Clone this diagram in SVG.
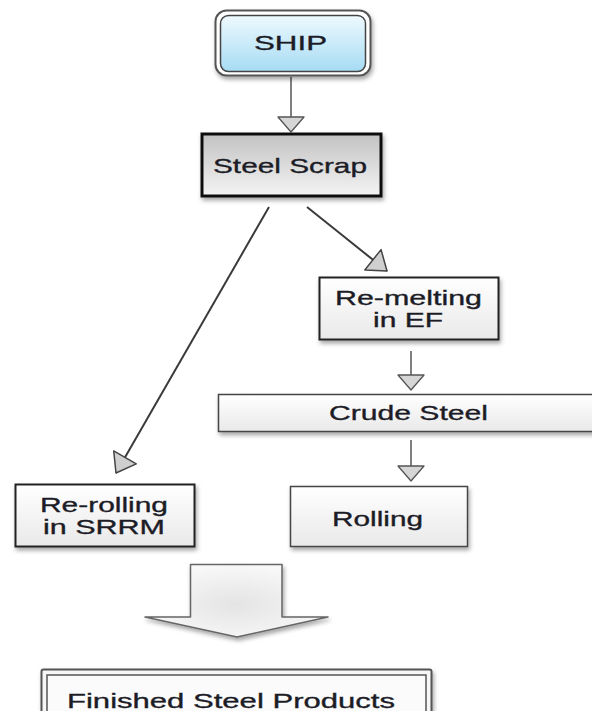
<svg xmlns="http://www.w3.org/2000/svg" width="592" height="711" viewBox="0 0 592 711">
  <defs>
    <style>
      .lbl { font-family: "Liberation Sans", Arial, sans-serif; font-size: 21px; fill: #1c1c26; stroke: #1c1c26; stroke-width: 0.35; text-anchor: middle; }
      .edge { fill: none; stroke: #3a3a3a; stroke-width: 2; }
      .edge-thin { fill: none; stroke: #555; stroke-width: 1.5; }
      .box { fill: url(#boxGrad); filter: url(#shadow); }
    </style>
    <linearGradient id="shipGrad" x1="0" y1="0" x2="0" y2="1">
      <stop offset="0" stop-color="#eef9fe"/>
      <stop offset="1" stop-color="#a6dcf3"/>
    </linearGradient>
    <linearGradient id="scrapGrad" x1="0" y1="0" x2="0" y2="1">
      <stop offset="0" stop-color="#c2c2c2"/>
      <stop offset="1" stop-color="#f4f4f4"/>
    </linearGradient>
    <linearGradient id="boxGrad" x1="0" y1="0" x2="0" y2="1">
      <stop offset="0" stop-color="#ffffff"/>
      <stop offset="1" stop-color="#e9e9e9"/>
    </linearGradient>
    <radialGradient id="bigArrowGrad" cx="0.5" cy="0.55" r="0.6">
      <stop offset="0" stop-color="#e4e4e4"/>
      <stop offset="1" stop-color="#fafafa"/>
    </radialGradient>
    <filter id="shadow" x="-10%" y="-10%" width="125%" height="140%">
      <feDropShadow dx="1.5" dy="3" stdDeviation="2" flood-color="#000" flood-opacity="0.35"/>
    </filter>
    <marker id="headLg" viewBox="0 0 20 28" refX="19" refY="14" markerWidth="20" markerHeight="28" markerUnits="userSpaceOnUse" orient="auto" overflow="visible">
      <path d="M1,1 L19,14 L1,27 Z" fill="#cfcfcf" stroke="#444" stroke-width="1.5" stroke-linejoin="round"/>
    </marker>
    <marker id="headSm" viewBox="0 0 17 28" refX="16" refY="14" markerWidth="17" markerHeight="28" markerUnits="userSpaceOnUse" orient="auto" overflow="visible">
      <path d="M1,1 L16,14 L1,27 Z" fill="#d6d6d6" stroke="#555" stroke-width="1.3" stroke-linejoin="round"/>
    </marker>
  </defs>

  <rect width="592" height="711" fill="#ffffff"/>

  <!-- connectors -->
  <g id="connectors">
    <path class="edge-thin" d="M291,77 L291,132" marker-end="url(#headSm)"/>
    <path class="edge" d="M307,207 L387,271" marker-end="url(#headLg)"/>
    <path class="edge" d="M269,207 L116,473" marker-end="url(#headLg)"/>
    <path class="edge-thin" d="M411,351 L411,390" marker-end="url(#headSm)"/>
    <path class="edge-thin" d="M411,440 L411,481" marker-end="url(#headSm)"/>
  </g>

  <!-- SHIP -->
  <g id="ship">
    <rect x="215.5" y="10.5" width="155" height="65" rx="11" fill="#ffffff" stroke="#555" stroke-width="2" filter="url(#shadow)"/>
    <rect x="220.5" y="15.5" width="145" height="56" rx="8" fill="url(#shipGrad)" stroke="#444" stroke-width="1.5"/>
    <text class="lbl" x="290.5" y="50" textLength="73" lengthAdjust="spacingAndGlyphs">SHIP</text>
  </g>

  <!-- Steel Scrap -->
  <g id="steel-scrap">
    <rect x="202" y="134" width="179" height="62" fill="url(#scrapGrad)" stroke="#111" stroke-width="3" filter="url(#shadow)"/>
    <text class="lbl" x="290" y="173" textLength="154" lengthAdjust="spacingAndGlyphs">Steel Scrap</text>
  </g>

  <!-- Re-melting in EF -->
  <g id="remelting">
    <rect class="box" x="319.5" y="277.5" width="179" height="62" stroke="#222" stroke-width="2"/>
    <text class="lbl" x="408.5" y="305" textLength="147" lengthAdjust="spacingAndGlyphs">Re-melting</text>
    <text class="lbl" x="408" y="327" textLength="70" lengthAdjust="spacingAndGlyphs">in EF</text>
  </g>

  <!-- Crude Steel -->
  <g id="crude-steel">
    <rect class="box" x="218.5" y="394.5" width="380" height="37" stroke="#444" stroke-width="1.5"/>
    <text class="lbl" x="408.5" y="420" textLength="159" lengthAdjust="spacingAndGlyphs">Crude Steel</text>
  </g>

  <!-- Re-rolling in SRRM -->
  <g id="rerolling">
    <rect class="box" x="15.5" y="484.5" width="179" height="62" stroke="#222" stroke-width="2"/>
    <text class="lbl" x="104" y="512" textLength="128" lengthAdjust="spacingAndGlyphs">Re-rolling</text>
    <text class="lbl" x="104" y="534" textLength="122" lengthAdjust="spacingAndGlyphs">in SRRM</text>
  </g>

  <!-- Rolling -->
  <g id="rolling">
    <rect class="box" x="290.5" y="486.5" width="177" height="60" stroke="#444" stroke-width="1.5"/>
    <text class="lbl" x="377.5" y="526" textLength="91" lengthAdjust="spacingAndGlyphs">Rolling</text>
  </g>

  <!-- block arrow into finished products -->
  <g id="merge-arrow">
    <path d="M190.5,564.5 L282,564.5 L282,617 L328,617 L237,637 L145,617 L190.5,617 Z" fill="url(#bigArrowGrad)" stroke="#666" stroke-width="1.5" stroke-linejoin="round" filter="url(#shadow)"/>
  </g>

  <!-- Finished Steel Products -->
  <g id="finished">
    <rect x="41.5" y="669.5" width="390" height="50" rx="2" fill="#f6f6f6" stroke="#555" stroke-width="2" filter="url(#shadow)"/>
    <rect x="47" y="675" width="379" height="40" fill="#fbfbfb" stroke="#555" stroke-width="1.5"/>
    <text class="lbl" x="231" y="708" textLength="328" lengthAdjust="spacingAndGlyphs">Finished Steel Products</text>
  </g>
</svg>
